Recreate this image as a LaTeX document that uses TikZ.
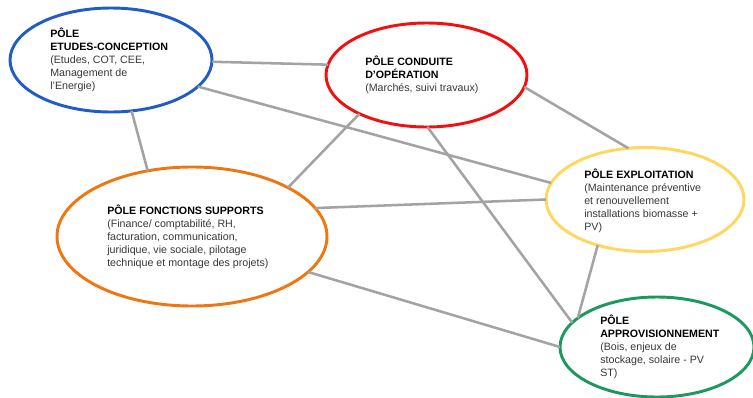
\documentclass[tikz,border=0pt]{standalone}
\usepackage{fontspec}
\setmainfont{Liberation Sans}
\usetikzlibrary{shapes.geometric}
\definecolor{cblue}{HTML}{1F5BC9}
\definecolor{cred}{HTML}{F20F0F}
\definecolor{cyellow}{HTML}{FFD75E}
\definecolor{corange}{HTML}{EE7711}
\definecolor{cgreen}{HTML}{1C9A5E}
\definecolor{cgray}{HTML}{A3A3A3}
\definecolor{ctext}{HTML}{383838}
\begin{document}
\begin{tikzpicture}[x=0.75pt,y=-0.75pt,
  pole/.style={ellipse,draw,line width=2.2pt,inner sep=0pt,outer sep=0pt},
  link/.style={draw=cgray,line width=1.9pt},
  txt/.style={anchor=west,align=left,inner sep=0pt,font=\fontsize{8pt}{9.75pt}\selectfont,text=ctext}]
\useasboundingbox (0,0) rectangle (753,397);
\clip (0,0) rectangle (753,397);
\fill[white] (0,0) rectangle (753,397);
% ellipses
\node[pole,draw=cblue,minimum width=151.5pt,minimum height=78pt] (blue) at (111,60) {};
\node[pole,draw=cred,minimum width=150.75pt,minimum height=78pt] (red) at (426.5,75) {};
\node[pole,draw=cyellow,minimum width=148.5pt,minimum height=78pt] (yellow) at (645,199.5) {};
\node[pole,draw=corange,minimum width=202.5pt,minimum height=104.25pt] (orange) at (192,236.5) {};
\node[pole,draw=cgreen,minimum width=145.5pt,minimum height=75pt] (green) at (657,347) {};
% connectors
\draw[link] (blue.-1) -- (red.174.8);
\draw[link] (blue.-17.6) -- (yellow.170.4);
\draw[link] (blue.-68.2) -- (orange.124.9);
\draw[link] (red.-150.3) -- (orange.27.3);
\draw[link] (red.-7.1) -- (yellow.108);
\draw[link] (red.-89.4) -- (green.164.2);
\draw[link] (orange.13.3) -- (yellow.180);
\draw[link] (orange.-17) -- (green.180.6);
\draw[link] (yellow.-136) -- (green.160.7);
% texts
\node[txt] (bluetxt) at (50,60) {\textbf{\color{black}PÔLE}\\\textbf{\color{black}ETUDES-CONCEPTION}\\(Etudes, COT, CEE,\\Management de\\l’Energie)};
\node[txt] (redtxt) at (365,75) {\textbf{\color{black}PÔLE CONDUITE}\\\textbf{\color{black}D’OPÉRATION}\\(Marchés, suivi travaux)};
\node[txt] (yellowtxt) at (584,201) {\textbf{\color{black}PÔLE EXPLOITATION}\\(Maintenance préventive\\et renouvellement\\installations biomasse +\\PV)};
\node[txt] (orangetxt) at (107,237) {\textbf{\color{black}PÔLE FONCTIONS SUPPORTS}\\(Finance/ comptabilité, RH,\\facturation, communication,\\juridique, vie sociale, pilotage\\technique et montage des projets)};
\node[txt] (greentxt) at (600,347) {\textbf{\color{black}PÔLE}\\\textbf{\color{black}APPROVISIONNEMENT}\\(Bois, enjeux de\\stockage, solaire - PV\\ST)};
\end{tikzpicture}
\end{document}
